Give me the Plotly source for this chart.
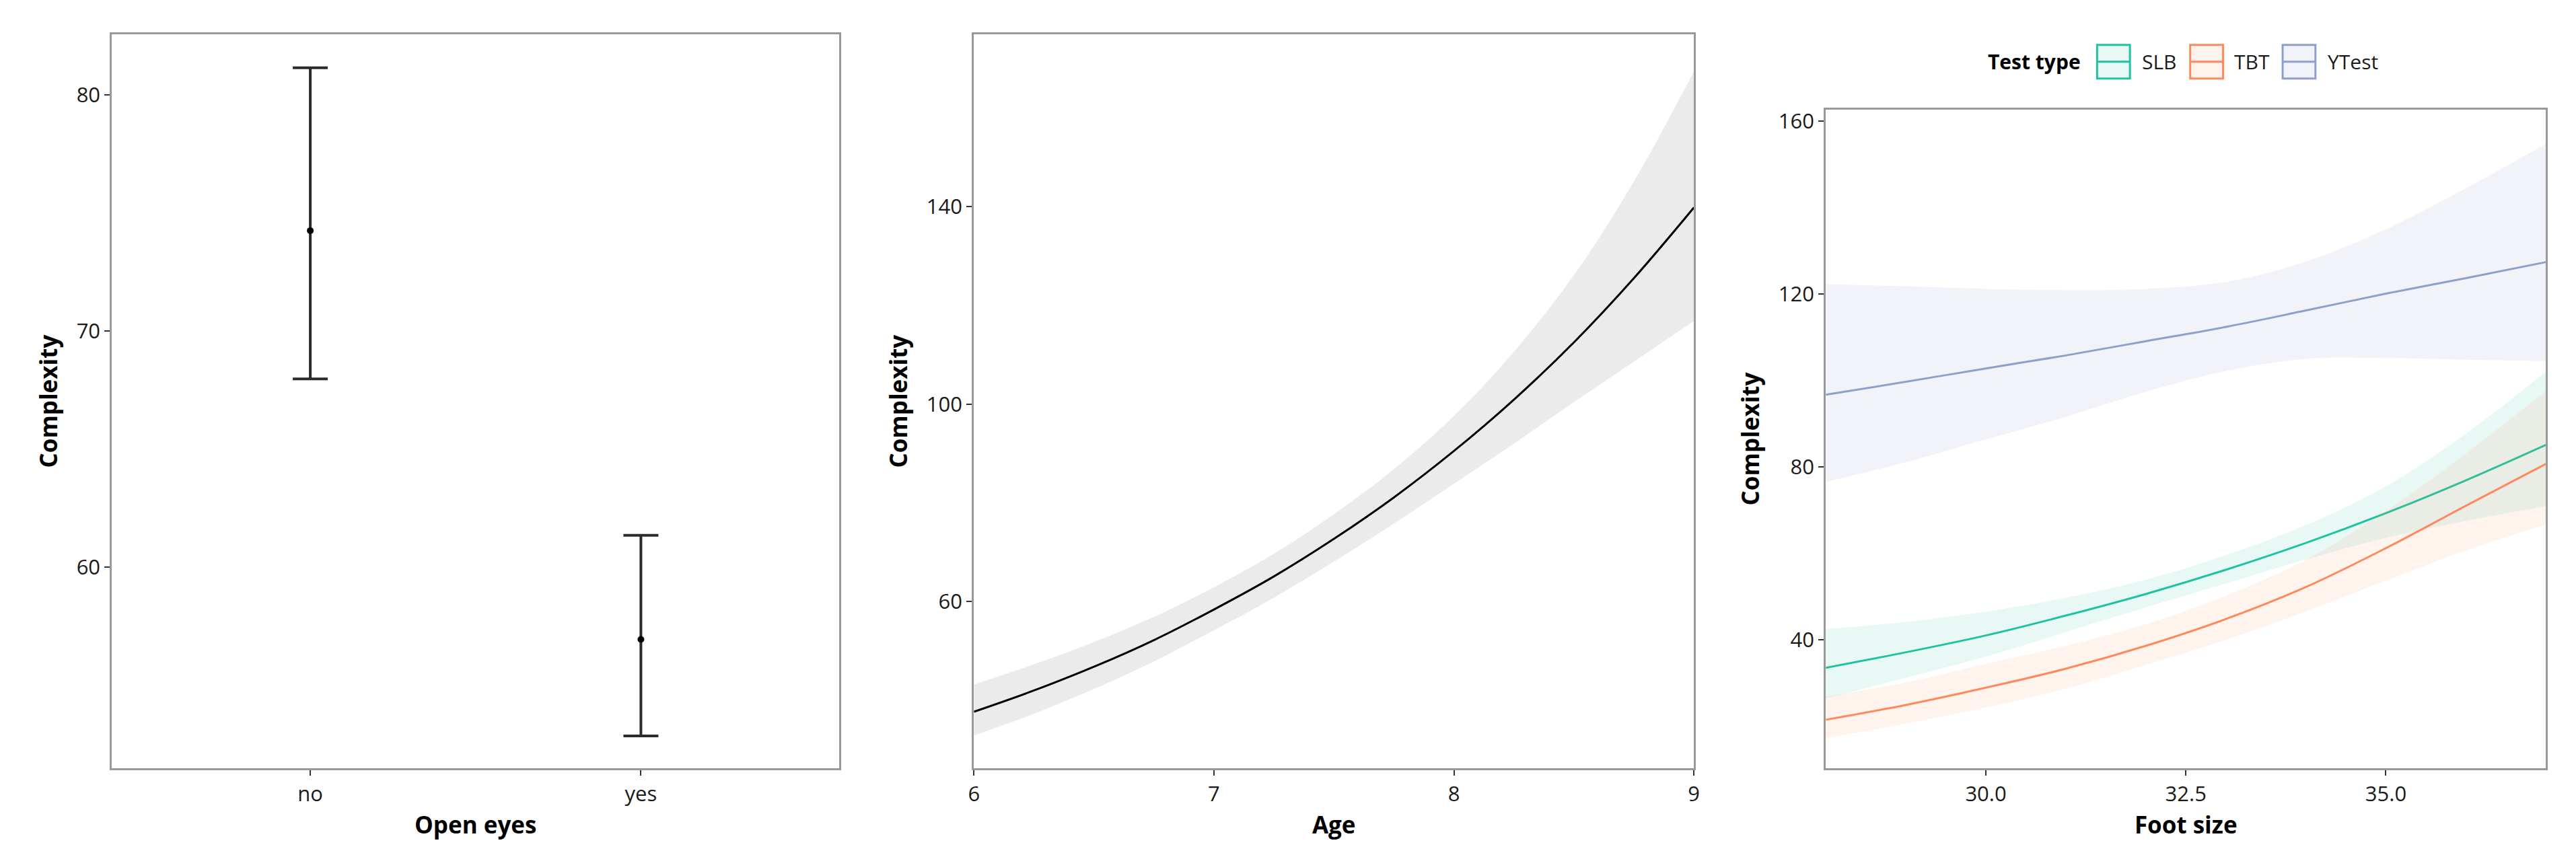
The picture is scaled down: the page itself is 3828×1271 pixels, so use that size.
import plotly.graph_objects as go

W, H = 3828, 1271

# --- panel 1: open eyes (mean + CI) ---
eyes_cat = ['no', 'yes']
eyes_mean = [74.25, 56.94]
eyes_upper = [81.15, 61.35]
eyes_lower = [67.97, 52.85]

# --- panel 2: age effect ---
age = [6.0, 6.25, 6.5, 6.75, 7.0, 7.25, 7.5, 7.75, 8.0, 8.25, 8.5, 8.75, 9.0]
age_fit = [37.7, 42.0, 46.8, 52.2, 58.4, 65.1, 72.7, 81.1, 90.5, 100.9, 112.5, 125.5, 139.8]
age_lower = [32.9, 37.3, 42.3, 47.9, 54.2, 60.8, 68.1, 75.8, 83.9, 92.0, 100.4, 108.6, 116.8]
age_upper = [43.2, 47.3, 51.8, 56.9, 62.9, 69.7, 77.7, 86.8, 97.6, 110.6, 126.1, 145.1, 167.4]

# --- panel 3: foot size by test type ---
foot = [28, 29, 30, 31, 32, 33, 34, 35, 36, 37]
test_types = ['SLB', 'TBT', 'YTest']
test_colors = ['#1fc3a1', '#fc8a5d', '#8da0cb']
test_fills = ['rgba(31,195,161,0.10)', 'rgba(252,138,93,0.10)', 'rgba(141,160,203,0.12)']
slb_fit = [33.5, 37.1, 41.0, 45.6, 50.6, 56.2, 62.4, 69.3, 76.9, 85.1]
slb_lower = [26.4, 31.2, 36.1, 41.8, 47.5, 53.0, 58.6, 63.6, 67.5, 70.9]
slb_upper = [42.5, 44.1, 46.5, 49.7, 53.9, 59.6, 66.5, 75.5, 87.7, 102.1]
tbt_fit = [21.5, 24.9, 28.9, 33.3, 38.6, 44.8, 52.2, 61.2, 71.0, 80.7]
tbt_lower = [17.2, 20.6, 24.3, 28.7, 34.2, 40.0, 46.6, 53.7, 60.7, 66.7]
tbt_upper = [26.9, 30.1, 34.4, 38.6, 43.6, 50.2, 58.5, 69.8, 83.1, 97.6]
yt_fit = [96.7, 99.7, 102.8, 105.8, 109.1, 112.4, 116.2, 120.1, 123.7, 127.4]
yt_lower = [76.5, 81.1, 86.4, 91.6, 97.4, 102.2, 105.0, 105.2, 104.8, 104.5]
yt_upper = [122.3, 121.8, 121.2, 120.9, 121.2, 122.8, 127.5, 135.0, 144.5, 154.8]

FONT = 'Open Sans'
TICK_FONT = dict(family=FONT, size=31, color='#1a1a1a')
TITLE_FONT = dict(family=FONT, size=35, color='black', weight=700)


def dom_x(a, b):
    return [a / W, b / W]


def dom_y(top, bottom):
    return [1 - bottom / H, 1 - top / H]


def axis_style(**kw):
    d = dict(
        showline=True, mirror=True, linecolor='#9a9a9a', linewidth=3,
        ticks='outside', ticklen=8, tickwidth=2, tickcolor='#333333',
        showgrid=False, zeroline=False, tickfont=TICK_FONT,
    )
    d.update(kw)
    return d


fig = go.Figure()

# panel 1
err_plus = [u - m for u, m in zip(eyes_upper, eyes_mean)]
err_minus = [m - l for m, l in zip(eyes_mean, eyes_lower)]
fig.add_trace(go.Scatter(
    x=eyes_cat, y=eyes_mean, mode='markers',
    marker=dict(color='black', size=10),
    error_y=dict(type='data', symmetric=False, array=err_plus, arrayminus=err_minus,
                 color='#2b2b2b', thickness=4, width=26),
    showlegend=False, xaxis='x', yaxis='y'
))

# panel 2
fig.add_trace(go.Scatter(x=age, y=age_lower, mode='lines', line=dict(width=0, shape='spline'),
                         showlegend=False, hoverinfo='skip', xaxis='x2', yaxis='y2'))
fig.add_trace(go.Scatter(x=age, y=age_upper, mode='lines', line=dict(width=0, shape='spline'),
                         fill='tonexty', fillcolor='#ebebeb',
                         showlegend=False, hoverinfo='skip', xaxis='x2', yaxis='y2'))
fig.add_trace(go.Scatter(x=age, y=age_fit, mode='lines', line=dict(color='black', width=3, shape='spline'),
                         showlegend=False, xaxis='x2', yaxis='y2'))

# panel 3: ribbon + fitted line per test type
groups = [
    (slb_fit, slb_lower, slb_upper),
    (tbt_fit, tbt_lower, tbt_upper),
    (yt_fit, yt_lower, yt_upper),
]
for name, color, fillc, (fit, lo, up) in zip(test_types, test_colors, test_fills, groups):
    fig.add_trace(go.Scatter(x=foot, y=lo, mode='lines', line=dict(width=0, shape='spline'),
                             showlegend=False, hoverinfo='skip', xaxis='x3', yaxis='y3'))
    fig.add_trace(go.Scatter(x=foot, y=fit, mode='lines', name=name, showlegend=False,
                             line=dict(color=color, width=3, shape='spline'),
                             fill='tonexty', fillcolor=fillc,
                             xaxis='x3', yaxis='y3'))
    fig.add_trace(go.Scatter(x=foot, y=up, mode='lines', line=dict(width=0, shape='spline'),
                             fill='tonexty', fillcolor=fillc,
                             showlegend=False, hoverinfo='skip', xaxis='x3', yaxis='y3'))

# ggplot-style legend on top of panel 3 (keys drawn as boxes with a centre line)
legend_y = 1 - 80 / H
key_half = 25 / H
key_left = [3114, 3253, 3391]
label_left = [3179, 3317, 3456]
shapes = []
annotations = [dict(text='<b>Test type</b>', x=2949 / W, y=legend_y, xref='paper', yref='paper',
                    xanchor='left', yanchor='middle', showarrow=False,
                    font=dict(family=FONT, size=30, color='black'))]
for name, color, fillc, kx, lx in zip(test_types, test_colors, test_fills, key_left, label_left):
    shapes.append(dict(type='rect', xref='paper', yref='paper',
                       x0=kx / W, x1=(kx + 49) / W, y0=legend_y - key_half, y1=legend_y + key_half,
                       line=dict(color=color, width=3), fillcolor=fillc))
    shapes.append(dict(type='line', xref='paper', yref='paper',
                       x0=kx / W, x1=(kx + 49) / W, y0=legend_y, y1=legend_y,
                       line=dict(color=color, width=3)))
    annotations.append(dict(text=name, x=lx / W, y=legend_y, xref='paper', yref='paper',
                            xanchor='left', yanchor='middle', showarrow=False,
                            font=dict(family=FONT, size=30, color='#1a1a1a')))

fig.update_layout(
    width=W, height=H,
    margin=dict(l=0, r=0, t=0, b=0),
    paper_bgcolor='white', plot_bgcolor='white',
    font=dict(family=FONT, color='black'),
    showlegend=False,
    shapes=shapes, annotations=annotations,
    xaxis=axis_style(domain=dom_x(150, 1236), range=[-0.6, 1.6], anchor='y',
                     title=dict(text='Open eyes', font=TITLE_FONT, standoff=16)),
    yaxis=axis_style(domain=dom_y(39, 1134), range=[51.47, 82.57], tickvals=[60, 70, 80], anchor='x',
                     title=dict(text='Complexity', font=TITLE_FONT, standoff=18)),
    xaxis2=axis_style(domain=dom_x(1437, 2512), range=[6, 9], dtick=1, anchor='y2',
                      title=dict(text='Age', font=TITLE_FONT, standoff=16)),
    yaxis2=axis_style(domain=dom_y(39, 1134), range=[26.2, 174.9], tickvals=[60, 100, 140], anchor='x2',
                      title=dict(text='Complexity', font=TITLE_FONT, standoff=18)),
    xaxis3=axis_style(domain=dom_x(2709, 3784), range=[28, 37], tickvals=[30, 32.5, 35],
                      ticktext=['30.0', '32.5', '35.0'], anchor='y3',
                      title=dict(text='Foot size', font=TITLE_FONT, standoff=16)),
    yaxis3=axis_style(domain=dom_y(151, 1134), range=[10.2, 162.76], tickvals=[40, 80, 120, 160], anchor='x3',
                      title=dict(text='Complexity', font=TITLE_FONT, standoff=18)),
)

fig.write_html('out.html')
